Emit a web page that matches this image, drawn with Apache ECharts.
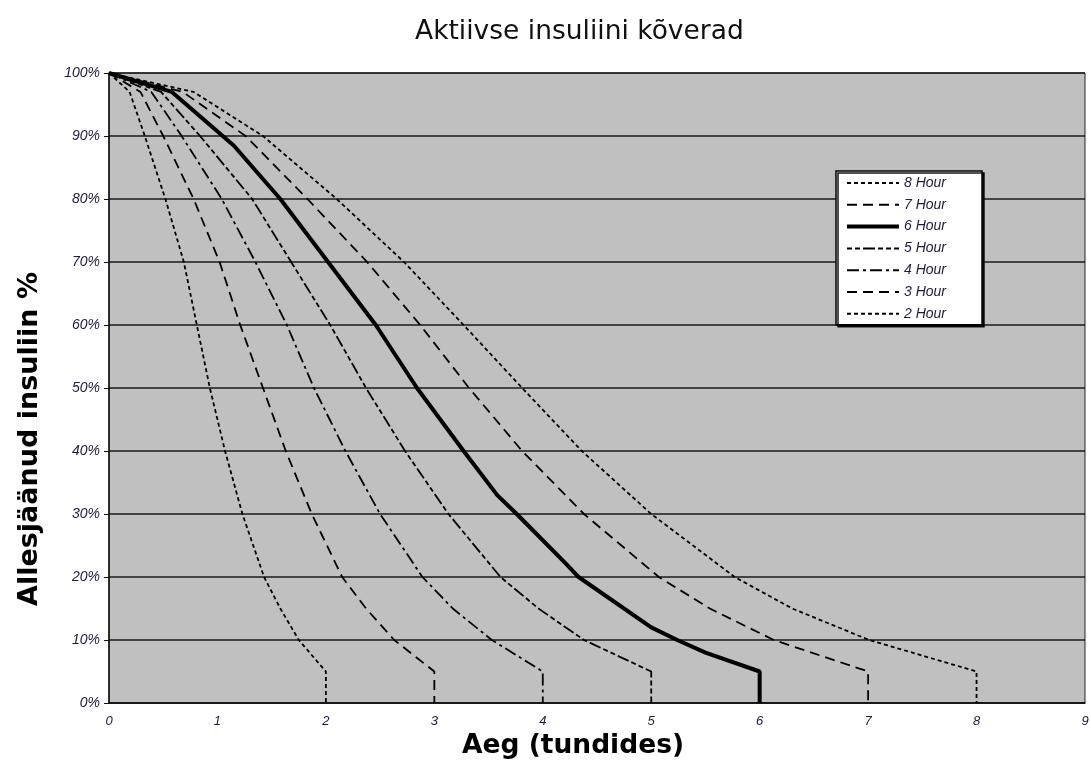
<!DOCTYPE html>
<html>
<head>
<meta charset="utf-8">
<script src="https://cdn.jsdelivr.net/npm/echarts@6/dist/echarts.min.js"></script>
<style>html,body{margin:0;padding:0;background:#fff;}#c{width:1091px;height:760px;}</style>
</head>
<body>
<div id="c"></div>
<script>
// Data: [hours, percent remaining]
var seriesNames = ['2 Hour', '3 Hour', '4 Hour', '5 Hour', '6 Hour', '7 Hour', '8 Hour'];
var legendOrder = ['8 Hour', '7 Hour', '6 Hour', '5 Hour', '4 Hour', '3 Hour', '2 Hour'];
var hour2 = [[0,100],[0.19,97],[0.33,90],[0.52,80],[0.69,70],[0.81,60],[0.93,50],[1.07,40],[1.23,30],[1.43,20],[1.58,15],[1.75,10],[2,5],[2,0]];
var hour3 = [[0,100],[0.29,97],[0.50,90],[0.78,80],[1.02,70],[1.21,60],[1.42,50],[1.63,40],[1.87,30],[2.15,20],[2.37,15],[2.63,10],[3,5],[3,0]];
var hour4 = [[0,100],[0.39,97],[0.67,90],[1.04,80],[1.35,70],[1.64,60],[1.89,50],[2.18,40],[2.50,30],[2.89,20],[3.17,15],[3.53,10],[4,5],[4,0]];
var hour5 = [[0,100],[0.48,97],[0.84,90],[1.32,80],[1.68,70],[2.04,60],[2.37,50],[2.73,40],[3.13,30],[3.61,20],[3.96,15],[4.38,10],[5,5],[5,0]];
var hour6 = [[0,100],[0.58,97],[1.15,88.5],[1.58,80],[2.02,70],[2.46,60],[2.84,50],[3.27,40],[3.58,33],[3.76,30],[4.22,22],[4.33,20],[5.0,12],[5.24,10],[5.5,8],[6,5],[6,0]];
var hour7 = [[0,100],[0.68,97],[1.26,90],[1.83,80],[2.38,70],[2.87,60],[3.32,50],[3.81,40],[4.38,30],[5.07,20],[5.54,15],[6.13,10],[7,5],[7,0]];
var hour8 = [[0,100],[0.78,97],[1.42,90],[2.10,80],[2.72,70],[3.27,60],[3.81,50],[4.36,40],[5.0,30],[5.77,20],[6.3,15],[7.01,10],[8,5],[8,0]];
var xTicks = [0,1,2,3,4,5,6,7,8,9];
var yTicks = [0,10,20,30,40,50,60,70,80,90,100];

var allData = [hour2, hour3, hour4, hour5, hour6, hour7, hour8];
var dashTypes = [[4,3],[10,6],[12,4,3,4],[5,3,5,3,12,3],'solid',[10,6],[4,3]];
var widths = [1.8,1.8,1.8,1.8,4,1.8,1.8];

var labelColor = '#1c1c3c';
var chart = echarts.init(document.getElementById('c'), null, {renderer: 'canvas'});
var option = {
  animation: false,
  backgroundColor: '#ffffff',
  title: {
    text: 'Aktiivse insuliini kõverad',
    left: 410, top: 14,
    textStyle: {fontFamily: 'DejaVu Sans', fontSize: 26.5, fontWeight: 'normal', color: '#111'}
  },
  grid: {
    left: 109, right: 6, top: 73, bottom: 57,
    outerBoundsMode: 'none', containLabel: false,
    show: true, backgroundColor: '#c0c0c0', borderColor: '#222', borderWidth: 1
  },
  legend: {
    data: legendOrder.map(function (n) {
      return n === '6 Hour' ? {name: n, lineStyle: {width: 4}} : {name: n};
    }),
    orient: 'vertical',
    left: 836, top: 171,
    itemWidth: 52, itemHeight: 14, itemGap: 7.8,
    padding: [5, 36, 4, 9],
    backgroundColor: '#ffffff',
    borderColor: '#000', borderWidth: 1.5,
    shadowColor: 'rgba(0,0,0,0.9)', shadowOffsetX: 2, shadowOffsetY: 2, shadowBlur: 0,
    itemStyle: {opacity: 0},
    textStyle: {fontFamily: 'Liberation Sans', fontStyle: 'italic', fontSize: 14, color: labelColor},
    selectedMode: false
  },
  xAxis: {
    type: 'value', min: 0, max: 9, interval: 1,
    name: 'Aeg (tundides)', nameLocation: 'middle', nameGap: 30,
    nameTextStyle: {fontFamily: 'DejaVu Sans', fontWeight: 'bold', fontSize: 26.5, color: '#000', padding: [0, 48, 0, 0]},
    axisLine: {show: true, lineStyle: {color: '#111', width: 1.5}},
    axisTick: {show: false},
    splitLine: {show: false},
    axisLabel: {
      margin: 12, fontFamily: 'Liberation Sans', fontStyle: 'italic', fontSize: 13, color: labelColor,
      formatter: function (v) { return xTicks.indexOf(v) >= 0 ? String(v) : ''; }
    }
  },
  yAxis: {
    type: 'value', min: 0, max: 100, interval: 10,
    axisLine: {show: true, lineStyle: {color: '#111', width: 1.5}},
    axisTick: {show: true, length: 5, lineStyle: {color: '#111'}},
    splitLine: {show: true, lineStyle: {color: '#1a1a1a', width: 1.5}},
    axisLabel: {
      margin: 9, fontFamily: 'Liberation Sans', fontStyle: 'italic', fontSize: 14, color: labelColor,
      formatter: function (v) { return yTicks.indexOf(v) >= 0 ? v + '%' : ''; }
    }
  },
  graphic: [{
    type: 'text',
    x: 30, y: 439,
    rotation: Math.PI / 2,
    style: {
      text: 'Allesjäänud insuliin %',
      fontFamily: 'DejaVu Sans', fontWeight: 'bold', fontSize: 27, fill: '#000',
      textAlign: 'center', textVerticalAlign: 'middle'
    }
  }],
  series: seriesNames.map(function (n, i) {
    return {
      name: n, type: 'line', data: allData[i],
      symbol: 'none', smooth: false, z: i === 4 ? 5 : 3,
      lineStyle: {color: '#000', width: widths[i], type: dashTypes[i]}
    };
  })
};
chart.setOption(option);
</script>
</body>
</html>
